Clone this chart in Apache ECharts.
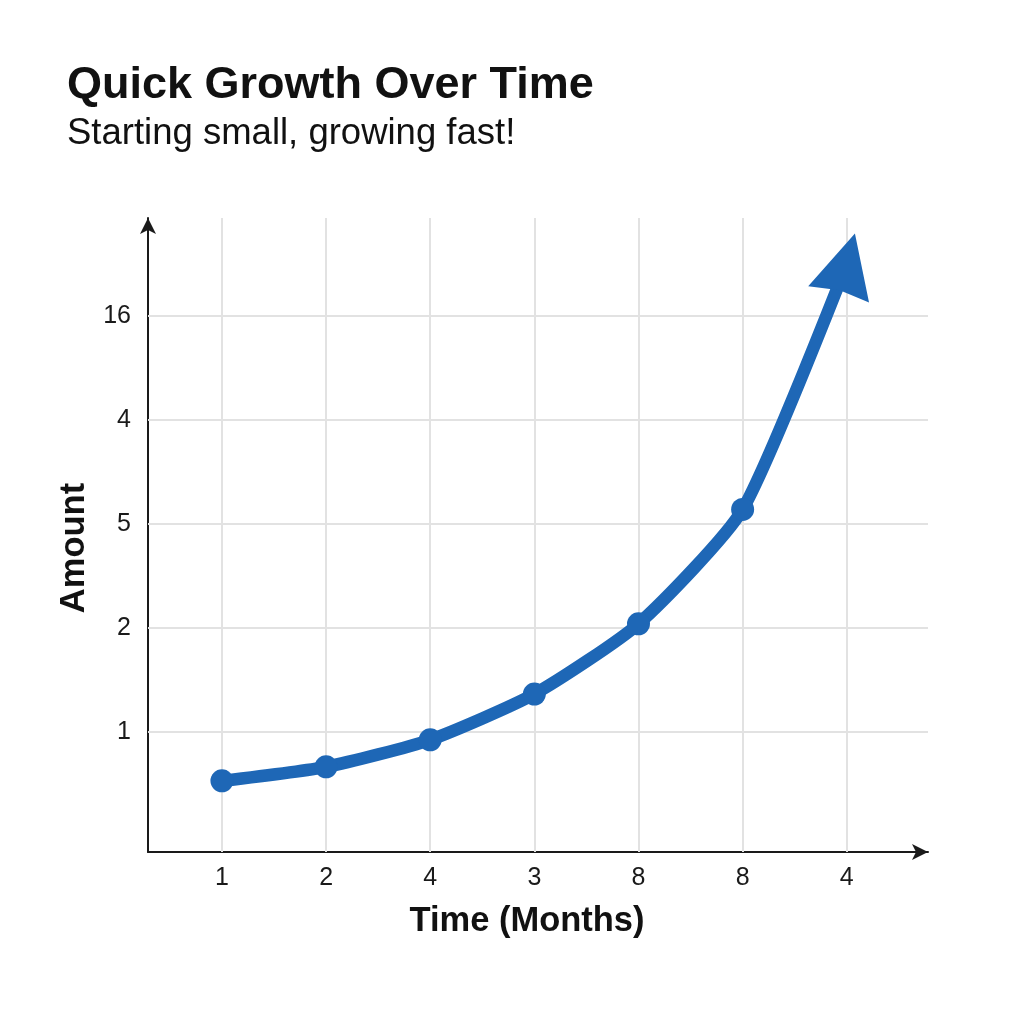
<!DOCTYPE html>
<html>
<head>
<meta charset="utf-8">
<script src="https://cdn.jsdelivr.net/npm/echarts@6/dist/echarts.min.js"></script>
<style>
html,body{margin:0;padding:0;background:#ffffff;}
#chart{width:1024px;height:1024px;}
</style>
</head>
<body>
<div id="chart"></div>
<script>
// Tick labels as printed in the reference (category positions 0..6 on x, gridline levels 1..5 on y)
const xTickLabels = ['1', '2', '4', '3', '8', '8', '4'];
const xTickPositions = [0, 1, 2, 3, 4, 5, 6];
const yTickLabels = ['1', '2', '5', '4', '16'];
const yTickPositions = [1, 2, 3, 4, 5];
// Curve points (x position, height in gridline units); the last one carries the arrowhead
const seriesX = [0, 1, 2, 3, 4, 5, 6];
const seriesY = [0.53, 0.665, 0.925, 1.365, 2.04, 3.14, 5.5];

const FONT = '"Liberation Sans", Arial, Helvetica, sans-serif';
const BLUE = '#1e67b6';
const AXIS = '#1a1a1a';
const GRID = '#e2e2e2';

const lineData = seriesX.map((x, i) => {
  const pt = { value: [x, seriesY[i]] };
  if (i === seriesX.length - 1) {
    pt.symbol = 'path://M50,0 L100,100 L50,93 L0,100 Z';
    pt.symbolSize = [63, 63];
    pt.symbolRotate = -15;
  }
  return pt;
});

const chart = echarts.init(document.getElementById('chart'), null, { renderer: 'canvas' });
chart.setOption({
  backgroundColor: '#ffffff',
  animation: false,
  title: [
    { text: 'Quick Growth Over Time', left: 62, top: 58,
      textStyle: { fontFamily: FONT, fontSize: 45, fontWeight: 'bold', color: '#111111' } },
    { text: 'Starting small, growing fast!', left: 62, top: 110,
      textStyle: { fontFamily: FONT, fontSize: 36.5, fontWeight: 'normal', color: '#111111' } }
  ],
  grid: { left: 148, right: 96, top: 218, bottom: 172, containLabel: false },
  xAxis: {
    type: 'value', min: -0.71, max: 6.78, splitNumber: 7,
    axisLine: { show: true, onZero: false, lineStyle: { color: AXIS, width: 2 },
      symbol: ['none', 'arrow'], symbolSize: [12, 16] },
    axisTick: { show: false },
    splitLine: { show: false },
    axisLabel: {
      customValues: xTickPositions,
      margin: 14, fontFamily: FONT, fontSize: 25, color: '#1a1a1a',
      formatter: v => { const i = xTickPositions.indexOf(Math.round(v * 1000) / 1000); return i >= 0 ? xTickLabels[i] : ''; }
    },
    name: 'Time (Months)', nameLocation: 'middle', nameGap: 52,
    nameTextStyle: { fontFamily: FONT, fontSize: 34.5, fontWeight: 'bold', color: '#111111', padding: [0, 22, 0, 0] }
  },
  yAxis: {
    type: 'value', min: -0.154, max: 5.942, splitNumber: 6,
    axisLine: { show: true, onZero: false, lineStyle: { color: AXIS, width: 2 },
      symbol: ['none', 'arrow'], symbolSize: [12, 16] },
    axisTick: { show: false },
    splitLine: { show: false },
    axisLabel: {
      customValues: yTickPositions,
      margin: 17, fontFamily: FONT, fontSize: 25, color: '#1a1a1a',
      formatter: v => { const i = yTickPositions.indexOf(Math.round(v * 1000) / 1000); return i >= 0 ? yTickLabels[i] : ''; }
    },
    name: 'Amount', nameLocation: 'middle', nameGap: 56, nameRotate: 90,
    nameTextStyle: { fontFamily: FONT, fontSize: 34.5, fontWeight: 'bold', color: '#111111', padding: [0, 26, 0, 0] }
  },
  series: [
    {
      type: 'line', data: [], silent: true, z: 1,
      markLine: {
        silent: true, symbol: ['none', 'none'], label: { show: false },
        lineStyle: { color: GRID, width: 2, type: 'solid' },
        emphasis: { disabled: true },
        data: xTickPositions.map(v => ({ xAxis: v })).concat(yTickPositions.map(v => ({ yAxis: v })))
      }
    },
    {
      type: 'line', z: 5,
      data: lineData,
      smooth: 0.2,
      symbol: 'circle', symbolSize: 23,
      showAllSymbol: true,
      lineStyle: { color: BLUE, width: 12.5, cap: 'round' },
      itemStyle: { color: BLUE, borderWidth: 0 },
      emphasis: { disabled: true }
    }
  ]
});
</script>
</body>
</html>
